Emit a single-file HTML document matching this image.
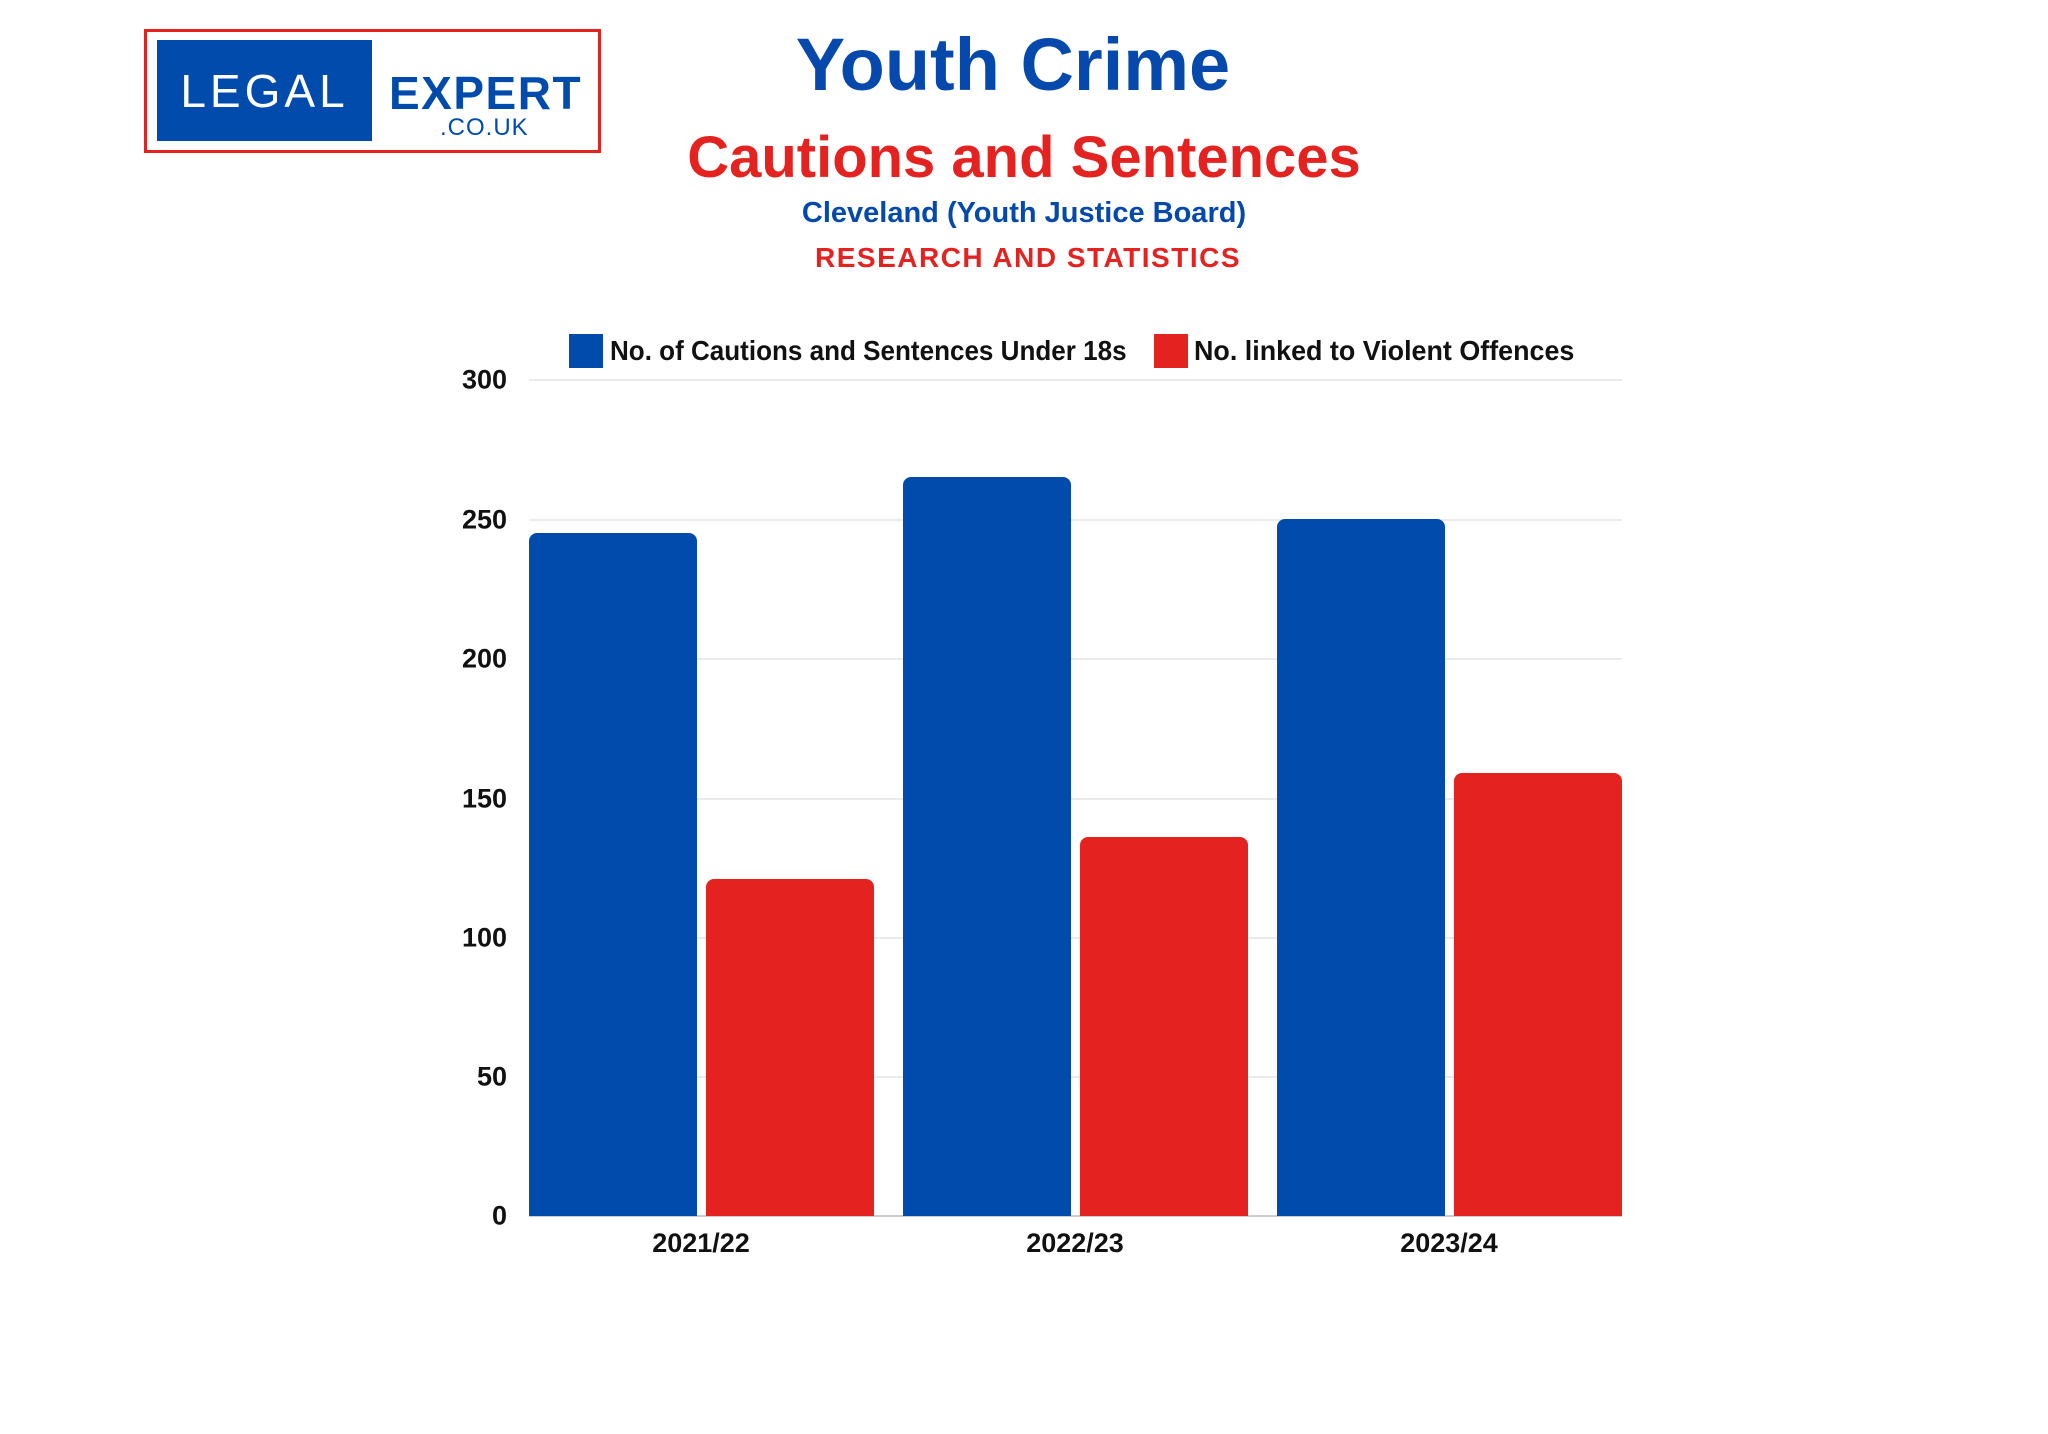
<!DOCTYPE html>
<html><head><meta charset="utf-8"><style>
body{margin:0;width:2048px;height:1434px;background:#fff;overflow:hidden;font-family:"Liberation Sans",sans-serif;position:relative}
.a{position:absolute;white-space:nowrap}
.c{transform:translateX(-50%)}
.yl{position:absolute;right:1541px;font-weight:bold;font-size:27px;color:#111;transform:translateY(-50%)}
.g{position:absolute;left:529px;width:1093px;height:2px;background:#ebebeb}
.b{position:absolute;border-radius:8px 8px 0 0}
.bl{background:#014bad}.rd{background:#e42321}
.xl{position:absolute;top:1228px;font-weight:bold;font-size:27px;color:#111;transform:translateX(-50%)}
</style></head><body>
<div class="a" style="left:144px;top:29px;width:451px;height:118px;border:3px solid #e42321"></div>
<div class="a" style="left:157px;top:40px;width:215px;height:101px;background:#014bad"></div>
<div class="a" style="left:157px;top:64px;width:215px;text-align:center;color:#fff;font-size:46px;letter-spacing:4px">LEGAL</div>
<div class="a" style="left:389px;top:66px;color:#014bad;font-size:46px;font-weight:bold;letter-spacing:1.5px">EXPERT</div>
<div class="a" style="left:440px;top:114px;color:#014bad;font-size:24px;letter-spacing:1px">.CO.UK</div>
<div class="a c" style="left:1013px;top:22px;color:#0549ad;font-size:74px;font-weight:bold">Youth Crime</div>
<div class="a c" style="left:1024px;top:124px;color:#e42321;font-size:58px;font-weight:bold">Cautions and Sentences</div>
<div class="a c" style="left:1024px;top:197px;color:#0549ad;font-size:29px;font-weight:bold">Cleveland (Youth Justice Board)</div>
<div class="a c" style="left:1028px;top:242px;color:#e42321;font-size:28px;font-weight:bold;letter-spacing:1.5px">RESEARCH AND STATISTICS</div>
<div class="a" style="left:569px;top:334px;width:34px;height:34px;background:#014bad"></div>
<div class="a" style="left:610px;top:335px;font-size:28px;font-weight:bold;color:#111;transform:scaleX(0.93);transform-origin:0 0">No. of Cautions and Sentences Under 18s</div>
<div class="a" style="left:1154px;top:334px;width:34px;height:34px;background:#e42321"></div>
<div class="a" style="left:1194px;top:335px;font-size:28px;font-weight:bold;color:#111;transform:scaleX(0.96);transform-origin:0 0">No. linked to Violent Offences</div>
<div class="g" style="top:379px"></div><div class="g" style="top:519px"></div><div class="g" style="top:658px"></div>
<div class="g" style="top:798px"></div><div class="g" style="top:937px"></div><div class="g" style="top:1076px"></div>
<div class="g" style="top:1215px;background:#ccc"></div>
<div class="yl" style="top:380px">300</div><div class="yl" style="top:520px">250</div><div class="yl" style="top:659px">200</div>
<div class="yl" style="top:799px">150</div><div class="yl" style="top:938px">100</div><div class="yl" style="top:1077px">50</div><div class="yl" style="top:1216px">0</div>
<div class="b bl" style="left:529px;width:168px;top:533px;height:683px"></div>
<div class="b rd" style="left:706px;width:168px;top:879px;height:337px"></div>
<div class="b bl" style="left:903px;width:168px;top:477px;height:739px"></div>
<div class="b rd" style="left:1080px;width:168px;top:837px;height:379px"></div>
<div class="b bl" style="left:1277px;width:168px;top:519px;height:697px"></div>
<div class="b rd" style="left:1454px;width:168px;top:773px;height:443px"></div>
<div class="xl" style="left:701px">2021/22</div>
<div class="xl" style="left:1075px">2022/23</div>
<div class="xl" style="left:1449px">2023/24</div>
</body></html>
